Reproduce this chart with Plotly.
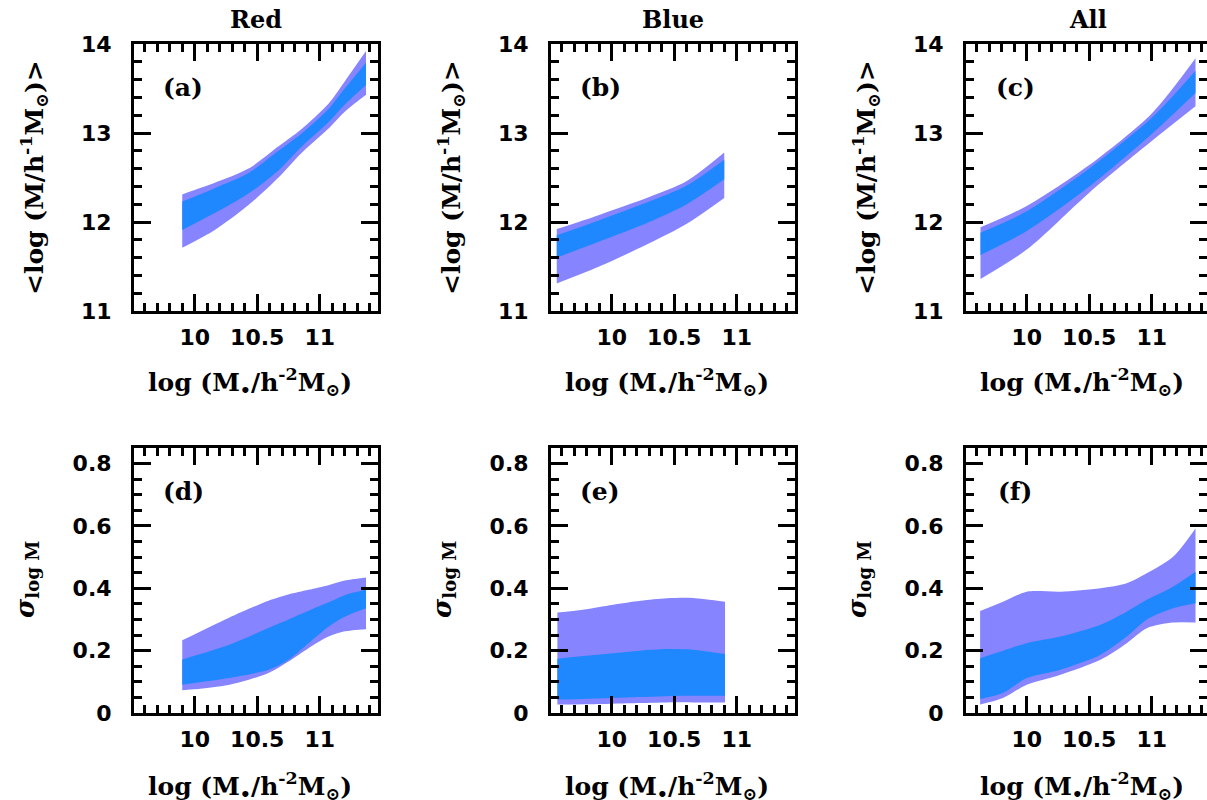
import plotly.graph_objects as go

# ---------------- data ----------------
# Panel (a) Red: <log M_h>
a_x = [9.90, 10.16, 10.43, 10.67, 10.85, 11.07, 11.20, 11.37]
a_out_hi = [12.31, 12.44, 12.60, 12.85, 13.04, 13.33, 13.58, 13.92]
a_in_hi = [12.23, 12.38, 12.55, 12.80, 12.99, 13.27, 13.50, 13.79]
a_in_lo = [11.91, 12.10, 12.32, 12.58, 12.84, 13.12, 13.32, 13.54]
a_out_lo = [11.71, 11.91, 12.19, 12.50, 12.77, 13.05, 13.24, 13.43]

# Panel (b) Blue
b_x = [9.56, 9.90, 10.30, 10.60, 10.90]
b_out_hi = [11.92, 12.08, 12.28, 12.46, 12.78]
b_in_hi = [11.85, 12.02, 12.23, 12.41, 12.70]
b_in_lo = [11.60, 11.78, 12.00, 12.20, 12.48]
b_out_lo = [11.31, 11.50, 11.76, 11.98, 12.27]

# Panel (c) All
c_x = [9.63, 10.00, 10.50, 11.00, 11.35]
c_out_hi = [11.94, 12.18, 12.64, 13.22, 13.84]
c_in_hi = [11.88, 12.12, 12.60, 13.17, 13.70]
c_in_lo = [11.63, 11.90, 12.40, 12.99, 13.45]
c_out_lo = [11.36, 11.69, 12.33, 12.91, 13.30]

# Panel (d) Red: sigma_logM
d_x = [9.90, 10.27, 10.59, 10.75, 10.91, 11.07, 11.20, 11.37]
d_out_hi = [0.233, 0.305, 0.360, 0.380, 0.395, 0.410, 0.425, 0.435]
d_in_hi = [0.172, 0.218, 0.273, 0.300, 0.328, 0.355, 0.378, 0.395]
d_in_lo = [0.091, 0.112, 0.139, 0.171, 0.224, 0.277, 0.309, 0.336]
d_out_lo = [0.073, 0.090, 0.128, 0.165, 0.208, 0.245, 0.262, 0.269]

# Panel (e) Blue
e_x = [9.565, 9.77, 10.01, 10.23, 10.44, 10.65, 10.906]
e_out_hi = [0.322, 0.331, 0.347, 0.360, 0.368, 0.369, 0.357]
e_in_hi = [0.174, 0.183, 0.192, 0.200, 0.205, 0.203, 0.189]
e_in_lo = [0.043, 0.045, 0.048, 0.051, 0.054, 0.055, 0.055]
e_out_lo = [0.027, 0.028, 0.030, 0.032, 0.034, 0.034, 0.034]

# Panel (f) All
f_x = [9.627, 9.81, 10.00, 10.27, 10.59, 10.80, 10.96, 11.17, 11.35]
f_out_hi = [0.327, 0.357, 0.389, 0.389, 0.400, 0.416, 0.448, 0.501, 0.592]
f_in_hi = [0.176, 0.200, 0.224, 0.245, 0.283, 0.325, 0.363, 0.405, 0.453]
f_in_lo = [0.045, 0.064, 0.112, 0.139, 0.187, 0.245, 0.300, 0.336, 0.352]
f_out_lo = [0.027, 0.048, 0.091, 0.123, 0.171, 0.224, 0.272, 0.290, 0.290]

column_titles = ["Red", "Blue", "All"]
panel_labels = ["(a)", "(b)", "(c)", "(d)", "(e)", "(f)"]
x_tickvals = [10, 10.5, 11]
x_ticktext = ["10", "10.5", "11"]
top_tickvals = [11, 12, 13, 14]
bot_tickvals = [0, 0.2, 0.4, 0.6, 0.8]
bot_ticktext = ["0", "0.2", "0.4", "0.6", "0.8"]

panels = [
    (a_x, a_out_lo, a_out_hi, a_in_lo, a_in_hi),
    (b_x, b_out_lo, b_out_hi, b_in_lo, b_in_hi),
    (c_x, c_out_lo, c_out_hi, c_in_lo, c_in_hi),
    (d_x, d_out_lo, d_out_hi, d_in_lo, d_in_hi),
    (e_x, e_out_lo, e_out_hi, e_in_lo, e_in_hi),
    (f_x, f_out_lo, f_out_hi, f_in_lo, f_in_hi),
]

# ---------------- styling / layout ----------------
W, H = 1207, 800
PURPLE = "#8684FF"
BLUE = "#1F88FF"
col_px = [(134, 378), (551, 795), (966, 1207)]
row_px = [(44, 311), (448, 713)]
xr_full = [9.514, 11.466]
xr_clip = [9.514, 11.442]

TICK_FONT = dict(family="DejaVu Sans", size=22, color="black", weight="bold")
SERIF = "DejaVu Serif"

fig = go.Figure()

for i, (x, olo, ohi, ilo, ihi) in enumerate(panels):
    n = i + 1
    xa = "x" if n == 1 else f"x{n}"
    ya = "y" if n == 1 else f"y{n}"
    common = dict(xaxis=xa, yaxis=ya, mode="lines", showlegend=False,
                  hoverinfo="skip", line=dict(width=0, shape="spline", smoothing=0.8))
    fig.add_trace(go.Scatter(x=x, y=olo, line_color=PURPLE, **common))
    fig.add_trace(go.Scatter(x=x, y=ohi, line_color=PURPLE, fill="tonexty",
                             fillcolor=PURPLE, **common))
    fig.add_trace(go.Scatter(x=x, y=ilo, line_color=BLUE, **common))
    fig.add_trace(go.Scatter(x=x, y=ihi, line_color=BLUE, fill="tonexty",
                             fillcolor=BLUE, **common))

layout = dict(width=W, height=H, autosize=False, template="none",
              margin=dict(l=0, r=0, t=0, b=0, pad=0, autoexpand=False),
              paper_bgcolor="white", plot_bgcolor="white",
              showlegend=False)

for i in range(6):
    n = i + 1
    r, c = divmod(i, 3)
    x0, x1 = col_px[c]
    y0, y1 = row_px[r]
    xkey = "xaxis" if n == 1 else f"xaxis{n}"
    ykey = "yaxis" if n == 1 else f"yaxis{n}"
    xa_anchor = "y" if n == 1 else f"y{n}"
    ya_anchor = "x" if n == 1 else f"x{n}"
    axis_common = dict(showline=True, linewidth=3, linecolor="black",
                       mirror="allticks", ticks="inside", tickwidth=2.5,
                       ticklen=17, tickcolor="black", showgrid=False,
                       zeroline=False, tickfont=TICK_FONT, fixedrange=True,
                       automargin=False)
    layout[xkey] = dict(
        domain=[x0 / W, x1 / W], anchor=xa_anchor,
        range=xr_clip if c == 2 else xr_full,
        tickmode="array", tickvals=x_tickvals, ticktext=x_ticktext,
        minor=dict(ticks="inside", ticklen=8, tickwidth=2.5, tickcolor="black",
                   dtick=0.1, tick0=0),
        ticklabelstandoff=5,
        **axis_common)
    if r == 0:
        yextra = dict(range=[11, 14], tickmode="array", tickvals=top_tickvals,
                      ticktext=[str(v) for v in top_tickvals],
                      minor=dict(ticks="inside", ticklen=8, tickwidth=2.5,
                                 tickcolor="black", dtick=0.2, tick0=0))
    else:
        yextra = dict(range=[0, 0.85], tickmode="array", tickvals=bot_tickvals,
                      ticktext=bot_ticktext,
                      minor=dict(ticks="inside", ticklen=8, tickwidth=2.5,
                                 tickcolor="black", dtick=0.05, tick0=0))
    layout[ykey] = dict(domain=[1 - y1 / H, 1 - y0 / H], anchor=ya_anchor,
                        ticklabelstandoff=15, **yextra, **axis_common)

fig.update_layout(**layout)

ann = []
# column titles
for c, t in enumerate(column_titles):
    x0 = col_px[c][0]
    cx = x0 + 122
    ann.append(dict(x=cx / W, y=1 - 19 / H, text=t, showarrow=False,
                    xref="paper", yref="paper", xanchor="center", yanchor="middle",
                    font=dict(family=SERIF, size=24, color="black", weight="bold")))
# panel labels
for i, t in enumerate(panel_labels):
    r, c = divmod(i, 3)
    x0 = col_px[c][0]
    y0 = row_px[r][0]
    ann.append(dict(x=(x0 + 49) / W, y=1 - (y0 + 43) / H, text=t, showarrow=False,
                    xref="paper", yref="paper", xanchor="center", yanchor="middle",
                    font=dict(family=SERIF, size=25, color="black", weight="bold")))
# x titles
xtitle = "log (M<sub>•</sub>/h<sup>-2</sup>M<sub>⊙</sub>)"
for r, ypx in enumerate([382, 786]):
    for c in range(3):
        x0 = col_px[c][0]
        ann.append(dict(x=(x0 + 116) / W, y=1 - ypx / H, text=xtitle, showarrow=False,
                        xref="paper", yref="paper", xanchor="center", yanchor="middle",
                        font=dict(family=SERIF, size=25, color="black", weight="bold")))
# y titles
ytitle_top = "&lt;log (M/h<sup>-1</sup>M<sub>⊙</sub>)&gt;"
ytitle_bot = "<i>σ</i><sub><b>log M</b></sub>"
for c in range(3):
    x0 = col_px[c][0]
    ann.append(dict(x=(x0 - 100) / W, y=1 - 178 / H, text=ytitle_top, showarrow=False,
                    textangle=-90, xref="paper", yref="paper",
                    xanchor="center", yanchor="middle",
                    font=dict(family=SERIF, size=25, color="black", weight="bold")))
    ann.append(dict(x=(x0 - 108) / W, y=1 - 580 / H, text=ytitle_bot, showarrow=False,
                    textangle=-90, xref="paper", yref="paper",
                    xanchor="center", yanchor="middle",
                    font=dict(family=SERIF, size=26, color="black", weight="bold")))
fig.update_layout(annotations=ann)

fig.write_html("out.html")
